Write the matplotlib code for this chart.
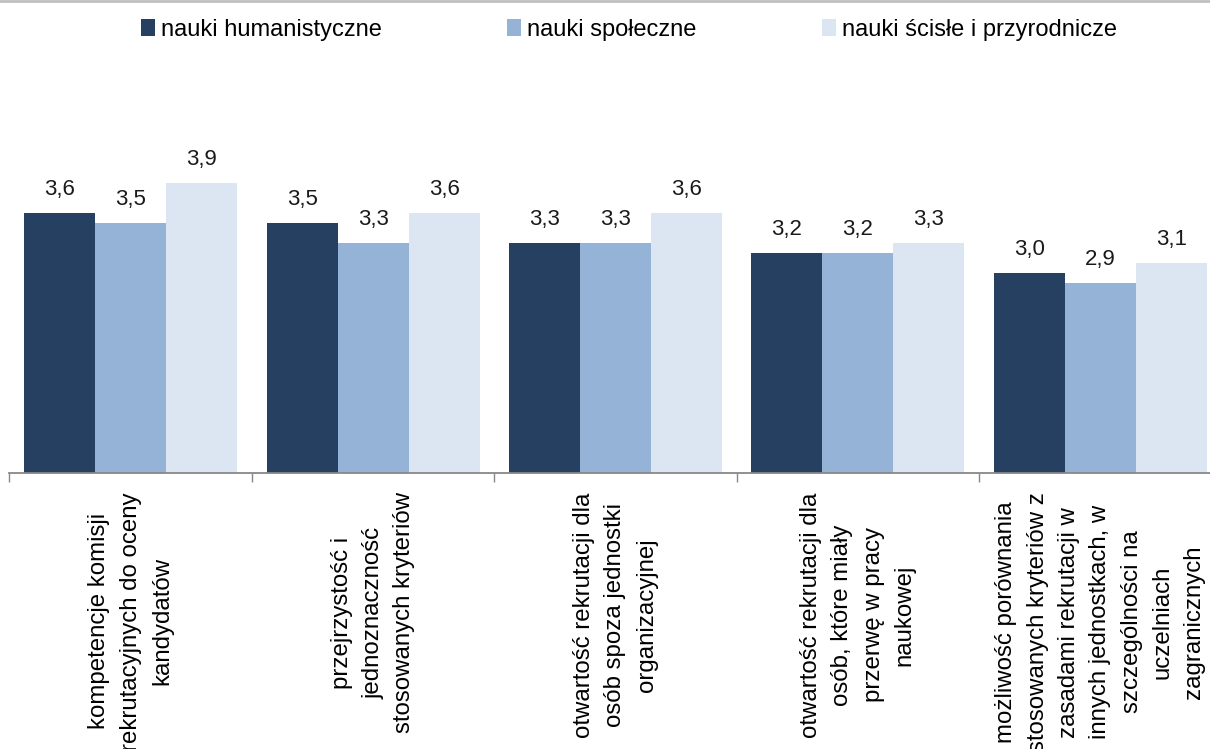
import numpy as np
import matplotlib
matplotlib.use('Agg')
import matplotlib.pyplot as plt
from matplotlib.lines import Line2D
from matplotlib.patches import Patch

# 数据
categories = [
    'kompetencje komisji\nrekrutacyjnych do oceny\nkandydatów',
    'przejrzystość i\njednoznaczność\nstosowanych kryteriów',
    'otwartość rekrutacji dla\nosób spoza jednostki\norganizacyjnej',
    'otwartość rekrutacji dla\nosób, które miały\nprzerwę w pracy\nnaukowej',
    'możliwość porównania\nstosowanych kryteriów z\nzasadami rekrutacji w\ninnych jednostkach, w\nszczególności na\nuczelniach\nzagranicznych',
]
series_names = ['nauki humanistyczne', 'nauki społeczne', 'nauki ścisłe i przyrodnicze']
humanistyczne = [3.6, 3.5, 3.3, 3.2, 3.0]
spoleczne = [3.5, 3.3, 3.3, 3.2, 2.9]
scisle = [3.9, 3.6, 3.6, 3.3, 3.1]

colors = ['#264061', '#95B3D7', '#DCE6F2']
font = ['Liberation Sans', 'DejaVu Sans']

W, H = 1210, 749
fig = plt.figure(figsize=(W / 100, H / 100), dpi=100)
# 坐标区域 (像素换算)
ax = fig.add_axes([9.5 / W, (H - 472.7) / H, 1212 / W, 400 / H])

x = np.arange(len(categories))
width = 0.293
all_series = [humanistyczne, spoleczne, scisle]
for i, (vals, col, name) in enumerate(zip(all_series, colors, series_names)):
    bars = ax.bar(x + (i - 1) * width, vals, width, bottom=0, color=col, label=name, zorder=2)
    for b, v in zip(bars, vals):
        ax.annotate(f'{v:.1f}'.replace('.', ','),
                    (b.get_x() + b.get_width() / 2, v),
                    xytext=(0, 9), textcoords='offset points',
                    ha='center', va='bottom', fontsize=16, family=font, color='#1a1a1a')

ax.set_xlim(-0.5, len(categories) - 0.5)
ax.set_ylim(1, 5)

# 只保留底部坐标轴
for s in ['top', 'right', 'left']:
    ax.spines[s].set_visible(False)
ax.spines['bottom'].set_color('#888888')
ax.spines['bottom'].set_linewidth(1.3)
ax.set_yticks([])

ax.set_xticks(x)
ax.set_xticklabels(categories, rotation=90, ha='center', va='top',
                   multialignment='center', linespacing=1.55)
for t in ax.get_xticklabels():
    t.set_family(font)
    t.set_fontsize(17.3)
ax.tick_params(axis='x', which='major', length=0, pad=14)
ax.set_xticks(np.arange(-0.5, len(categories)), minor=True)
ax.tick_params(axis='x', which='minor', length=6.5, width=1, color='#888888', direction='out')

# 图例
handles = [Patch(facecolor=c) for c in colors]
fig.legend(handles, series_names, loc='center', bbox_to_anchor=(629 / W, 1 - 30 / H),
           ncol=3, frameon=False, prop={'family': font, 'size': 17},
           handlelength=0.6, handleheight=0.75, handletextpad=0.25, columnspacing=5.3)

# 顶部边框线
fig.add_artist(Line2D([0, 1], [1 - 1 / H, 1 - 1 / H], color='#c0c0c0', linewidth=2,
                      transform=fig.transFigure))

fig.savefig('out.png', dpi=100)
